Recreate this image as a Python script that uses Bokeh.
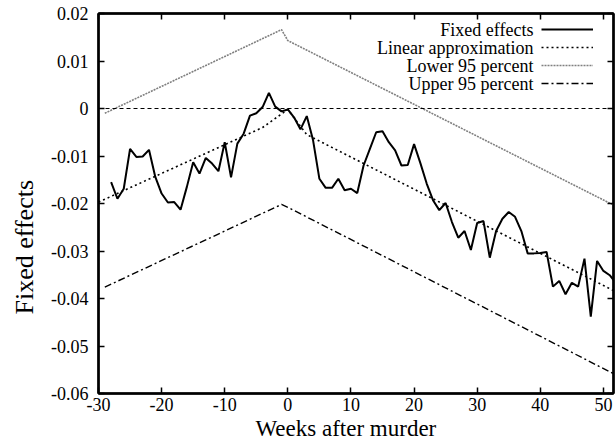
from bokeh.plotting import figure
from bokeh.models import (Range1d, LinearAxis, FixedTicker, Span, Legend, LegendItem, Label, Title)
from bokeh.embed import file_html
from bokeh.resources import INLINE

# ---- data ----
weeks = list(range(-28, 53))
fixed_effects = [
    -0.0155, -0.0190, -0.0169, -0.0085, -0.0102, -0.0101, -0.0087, -0.0144,
    -0.0179, -0.0198, -0.0197, -0.0213, -0.0165, -0.0113, -0.0137, -0.0104,
    -0.0116, -0.0132, -0.0071, -0.0145, -0.0074, -0.0053, -0.0015, -0.0010,
    0.0003, 0.0033, 0.0004, -0.0006, -0.0002, -0.0019, -0.0044, -0.0016,
    -0.0067, -0.0148, -0.0167, -0.0167, -0.0148, -0.0172, -0.0169, -0.0178,
    -0.0120, -0.0085, -0.0050, -0.0048, -0.0071, -0.0088, -0.0120, -0.0119,
    -0.0075, -0.0115, -0.0158, -0.0193, -0.0214, -0.0199, -0.0239, -0.0272,
    -0.0258, -0.0298, -0.0241, -0.0237, -0.0314, -0.0258, -0.0232, -0.0218,
    -0.0228, -0.0258, -0.0305, -0.0305, -0.0304, -0.0302, -0.0375, -0.0363,
    -0.0391, -0.0367, -0.0375, -0.0316, -0.0438, -0.0321, -0.0342, -0.0351,
    -0.0368,
]
linear_weeks = [-30, -4, 0, 3, 52]
linear_approx = [-0.0197, -0.0040, -0.0002, -0.0055, -0.0386]
lower_weeks = [-29, -1, 0, 52]
lower_95 = [-0.0010, 0.0166, 0.0143, -0.0206]
upper_weeks = [-29, -1, 0, 52]
upper_95 = [-0.0376, -0.0202, -0.0208, -0.0561]

series_names = ["Fixed effects", "Linear approximation", "Lower 95 percent", "Upper 95 percent"]
x_ticks = [-30, -20, -10, 0, 10, 20, 30, 40, 50]
x_tick_labels = ["-30", "-20", "-10", "0", "10", "20", "30", "40", "50"]
y_ticks = [-0.06, -0.05, -0.04, -0.03, -0.02, -0.01, 0.0, 0.01, 0.02]
y_tick_labels = ["-0.06", "-0.05", "-0.04", "-0.03", "-0.02", "-0.01", "0", "0.01", "0.02"]
x_title = "Weeks after murder"
y_title = "Fixed effects"

FONT = "Liberation Serif"
FS = "18px"

p = figure(width=616, height=445, output_backend="svg", toolbar_location=None,
           x_range=Range1d(-30, 51.6), y_range=Range1d(-0.06, 0.02),
           min_border_left=98, min_border_right=3, min_border_top=13, min_border_bottom=52)
p.background_fill_color = "white"
p.border_fill_color = "white"
p.grid.visible = False
p.outline_line_color = "black"
p.outline_line_width = 2

def style_axis(ax, ticks, labels, show_labels=True):
    ax.ticker = FixedTicker(ticks=ticks)
    ax.major_label_overrides = {t: (l if show_labels else "") for t, l in zip(ticks, labels)}
    ax.major_tick_in = 6
    ax.major_tick_out = 0
    ax.minor_tick_line_color = None
    ax.major_tick_line_width = 1.5
    ax.axis_line_width = 2.5
    ax.axis_line_color = "black"
    ax.major_label_text_font = FONT
    ax.major_label_text_font_size = FS if show_labels else "0px"
    ax.major_label_text_color = "black"

style_axis(p.xaxis[0], x_ticks, x_tick_labels)
style_axis(p.yaxis[0], y_ticks, y_tick_labels)
p.xaxis[0].major_label_standoff = 4
p.yaxis[0].major_label_standoff = 10

top_ax = LinearAxis()
style_axis(top_ax, x_ticks, x_tick_labels, show_labels=False)
top_ax.major_label_standoff = 0
p.add_layout(top_ax, "above")
right_ax = LinearAxis()
style_axis(right_ax, y_ticks, y_tick_labels, show_labels=False)
right_ax.major_label_standoff = 0
p.add_layout(right_ax, "right")

p.add_layout(Title(text=x_title, align="left", offset=157, standoff=0,
                   text_font=FONT, text_font_size="23px", text_font_style="normal",
                   text_color="black"), "below")
p.add_layout(Title(text=y_title, align="left", offset=79, standoff=16, vertical_align="top",
                   text_font=FONT, text_font_size="26px", text_font_style="normal",
                   text_color="black"), "left")

p.add_layout(Span(location=0, dimension="width", line_color="black",
                  line_dash="4 3", line_width=1.2))

r_fe = p.line(weeks, fixed_effects, line_color="black", line_width=2)
r_lin = p.line(linear_weeks, linear_approx, line_color="black", line_width=1.6, line_dash="2 3")
r_low = p.line(lower_weeks, lower_95, line_color="#808080", line_width=1.6, line_dash="2 1")
r_up = p.line(upper_weeks, upper_95, line_color="black", line_width=1.4, line_dash="7 3 2 3")

legend = Legend(items=[LegendItem(label=" ", renderers=[r]) for r in (r_fe, r_lin, r_low, r_up)],
                location="top_right", glyph_width=52, glyph_height=18, label_width=13,
                label_standoff=0, spacing=0, padding=0, margin=7,
                border_line_color=None, background_fill_alpha=0,
                label_text_font_size="1px")
p.add_layout(legend)

frame_h = 380
for i, name in enumerate(series_names):
    p.add_layout(Label(x=435, y=frame_h - 16 - 18 * i, x_units="screen", y_units="screen",
                       text=name, text_align="right", text_baseline="middle",
                       text_font=FONT, text_font_size=FS, text_color="black"))

open("out.html", "w").write(file_html(p, INLINE))
